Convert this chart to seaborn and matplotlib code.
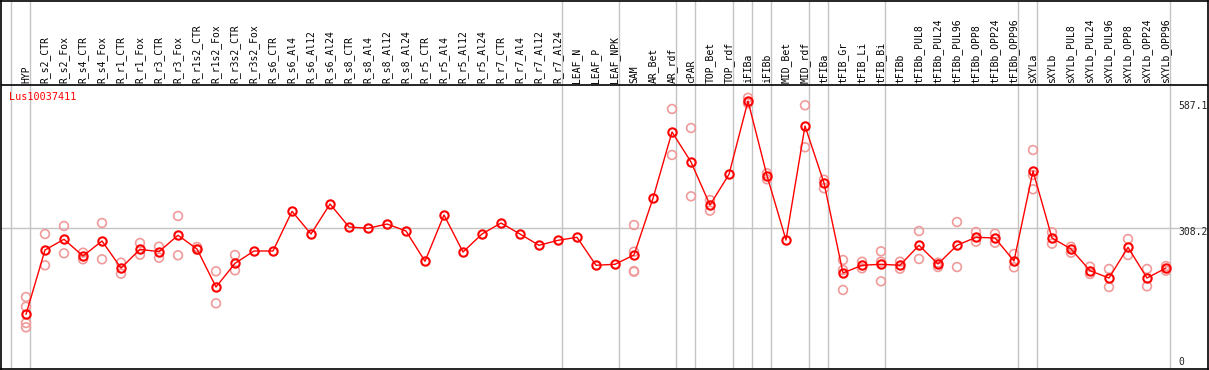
import matplotlib
matplotlib.use("Agg")
import matplotlib.pyplot as plt
import seaborn as sns
import numpy as np
import pandas as pd

samples = ["HYP", "R_s2_CTR", "R_s2_Fox", "R_s4_CTR", "R_s4_Fox", "R_r1_CTR", "R_r1_Fox",
           "R_r3_CTR", "R_r3_Fox", "R_r1s2_CTR", "R_r1s2_Fox", "R_r3s2_CTR", "R_r3s2_Fox",
           "R_s6_CTR", "R_s6_Al4", "R_s6_Al12", "R_s6_Al24", "R_s8_CTR", "R_s8_Al4", "R_s8_Al12",
           "R_s8_Al24", "R_r5_CTR", "R_r5_Al4", "R_r5_Al12", "R_r5_Al24", "R_r7_CTR", "R_r7_Al4",
           "R_r7_Al12", "R_r7_Al24", "LEAF_N", "LEAF_P", "LEAF_NPK", "SAM", "AR_Bet", "AR_rdf",
           "cPAR", "TOP_Bet", "TOP_rdf", "iFIBa", "iFIBb", "MID_Bet", "MID_rdf", "tFIBa",
           "tFIB_Gr", "tFIB_Li", "tFIB_Bi", "tFIBb", "tFIBb_PUL8", "tFIBb_PUL24", "tFIBb_PUL96",
           "tFIBb_OPP8", "tFIBb_OPP24", "tFIBb_OPP96", "sXYLa", "sXYLb", "sXYLb_PUL8",
           "sXYLb_PUL24", "sXYLb_PUL96", "sXYLb_OPP8", "sXYLb_OPP24", "sXYLb_OPP96"]

means = [119.8, 260.7, 284.1, 247.5, 280.4, 221.2, 262.2, 257.0, 292.9, 262.9, 179.6,
         231.5, 258.5, 258.5, 345.5, 295.7, 361.4, 311.1, 308.2, 317.6, 302.3, 235.9,
         337.4, 256.3, 295.7, 319.8, 295.7, 271.0, 281.9, 288.5, 227.2, 229.4, 249.7,
         373.9, 519.2, 453.5, 359.3, 426.5, 587.1, 423.4, 282.6, 532.3, 407.5, 210.3,
         227.2, 229.4, 227.2, 271.0, 230.0, 271.0, 288.5, 287.0, 236.6, 433.7, 287.0,
         262.9, 215.3, 199.3, 266.6, 199.3, 221.2]

replicates = [
    [157.7, 136.5, 100.8, 91.3], [295.7, 227.2], [313.3, 253.5], [254.8, 240.3],
    [319.8, 240.3], [232.9, 208.8], [276.0, 250.4], [267.9, 243.8], [335.2, 249.1],
    [267.3, 261.3], [214.0, 143.9], [249.7, 216.2], [], [], [], [], [], [], [], [], [],
    [], [], [], [], [], [], [], [], [], [], [], [315.4, 257.0, 213.1, 214.5], [],
    [569.6, 468.8], [527.9, 378.3], [370.2, 346.8], [], [594.0, 582.0], [428.7, 415.6],
    [], [577.7, 485.7], [414.7, 395.8], [238.8, 216.9, 173.1], [235.0, 220.6],
    [257.8, 235.0, 192.1], [235.0, 219.7], [302.3, 241.0], [232.9, 223.4], [322.0, 223.4],
    [300.1, 278.9], [296.4, 276.7], [252.0, 222.8], [479.7, 425.0, 393.7], [299.5, 274.5],
    [267.9, 254.8], [224.1, 208.1], [219.1, 179.6], [284.8, 249.7], [219.1, 181.2],
    [225.6, 215.3]]

group_starts = [0, 1, 29, 32, 35, 36, 38, 39, 40, 42, 43, 46, 53, 54, 61]
gene_name = "Lus10037411"
ref_value = 308.2
max_label = "587.1"

sns.set_style("white")
plt.rcParams['font.family'] = ['DejaVu Sans Mono']

W, H = 1209, 370
fig = plt.figure(figsize=(W / 100, H / 100), dpi=100)
ax = fig.add_axes([1 / W, 1 / H, 1207 / W, 368 / H])

# pixel <-> data mapping
px_per_unit = 0.4565
y_bottom_px = 369


def yv(py):
    return (y_bottom_px - py) / px_per_unit


def xv(px):
    return (px - 26) / 19.0


ax.set_xlim(xv(1), xv(1208))
ax.set_ylim(0, yv(1))

idx = np.arange(len(samples))
rep_x = [i for i, r in enumerate(replicates) for _ in r]
rep_y = [v for r in replicates for v in r]
df_rep = pd.DataFrame({"x": rep_x, "y": rep_y})
df_mean = pd.DataFrame({"x": idx, "y": means})

# grid / separators
for g in group_starts:
    ax.axvline(g - 0.77, color="#c4c4c4", lw=1, zorder=1)
ax.axhline(ref_value, color="#c4c4c4", lw=1, zorder=1)
ax.axhline(yv(85), color="black", lw=1.2, zorder=2)

sns.scatterplot(data=df_rep, x="x", y="y", ax=ax, marker="o", s=40,
                color="#f09a9a", linewidth=1.2, zorder=3, legend=False)
ax.collections[-1].set_facecolor("none")
ax.collections[-1].set_edgecolor("#f09a9a")

sns.lineplot(data=df_mean, x="x", y="y", ax=ax, color="red", lw=1,
             marker="o", markersize=6, markerfacecolor="none",
             markeredgecolor="red", markeredgewidth=1.5, zorder=4)

# sample labels
for i, s in enumerate(samples):
    ax.text(i, yv(83), s, rotation=90, ha="center", va="bottom",
            fontsize=7, color="black")

ax.text(xv(9), yv(97), gene_name, color="red", fontsize=7.3, ha="left", va="center")

ax.text(xv(1178), yv(106), max_label, fontsize=7, ha="left", va="center", color="#222222")
ax.text(xv(1178), yv(232), f"{ref_value}", fontsize=7, ha="left", va="center", color="#222222")
ax.text(xv(1178), yv(362), "0", fontsize=7, ha="left", va="center", color="#222222")

ax.set_xticks([])
ax.set_yticks([])
ax.set_xlabel("")
ax.set_ylabel("")
for sp in ax.spines.values():
    sp.set_visible(True)
    sp.set_color("black")
    sp.set_linewidth(1.2)

fig.savefig("out.png", dpi=100)
